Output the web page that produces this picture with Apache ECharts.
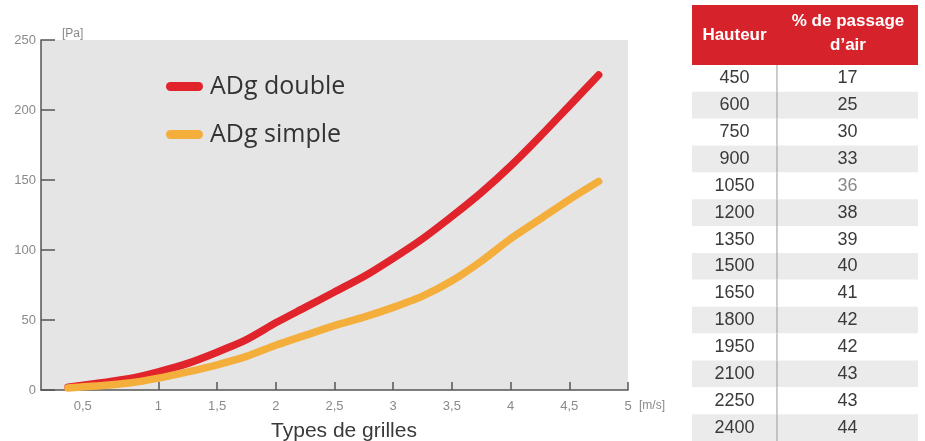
<!DOCTYPE html>
<html>
<head>
<meta charset="utf-8">
<script src="https://cdn.jsdelivr.net/npm/echarts@6/dist/echarts.min.js"></script>
<style>
html,body{margin:0;padding:0;background:#fff;}
#c{width:925px;height:441px;}
</style>
</head>
<body>
<div id="c"></div>
<script>
// ---- data ----
const speeds = [0.23, 0.5, 0.75, 1, 1.25, 1.5, 1.75, 2, 2.25, 2.5, 2.75, 3, 3.25, 3.5, 3.75, 4, 4.25, 4.5, 4.75];
const adgDouble = [2, 5, 8, 13, 19, 27, 36, 48, 59, 70, 81, 94, 108, 124, 141, 160, 181, 203, 225];
const adgSimple = [1.5, 3, 5, 8.5, 13, 18, 24, 32, 39, 46, 52, 59, 67, 78, 92, 108, 122, 136, 149];
const xLabelValues = [0.5, 1, 1.5, 2, 2.5, 3, 3.5, 4, 4.5, 5];
const xTickValues = [1, 1.5, 2, 2.5, 3, 3.5, 4, 4.5, 5];
const hauteur = [450, 600, 750, 900, 1050, 1200, 1350, 1500, 1650, 1800, 1950, 2100, 2250, 2400];
const passage = [17, 25, 30, 33, 36, 38, 39, 40, 41, 42, 42, 43, 43, 44];
const tableHeaders = ['Hauteur', '% de passage\nd\u2019air'];

const chart = echarts.init(document.getElementById('c'), null, {renderer: 'canvas'});
const font = '"Liberation Sans", Arial, sans-serif';
const axisColor = '#555';
const labelColor = '#8a8a8a';

const option = {
  animation: false,
  backgroundColor: '#ffffff',
  textStyle: {fontFamily: font},
  title: {
    text: 'Types de grilles',
    left: 344, top: 421,
    textAlign: 'center',
    padding: 0,
    textStyle: {fontSize: 21, fontWeight: 'normal', color: '#3a3a3a', fontFamily: font}
  },
  legend: {
    left: 166, top: 74,
    padding: 0,
    orient: 'vertical',
    itemWidth: 37, itemHeight: 9, itemGap: 23,
    icon: 'path://M4.5,0 L32.5,0 A4.5,4.5 0 0 1 32.5,9 L4.5,9 A4.5,4.5 0 0 1 4.5,0 Z',
    textStyle: {fontSize: 25, color: '#333', fontFamily: '"Open Sans", sans-serif', padding: [0, 0, 0, 2]},
    data: ['ADg double', 'ADg simple']
  },
  grid: [
    {left: 41, right: 297, top: 40, bottom: 51, show: true, backgroundColor: '#e5e5e5', borderWidth: 0},
    {left: 692, width: 226, top: 65, height: 382.2, show: false}
  ],
  xAxis: [
    {
      type: 'value', gridIndex: 0, min: 0, max: 5,
      name: '[m/s]', nameLocation: 'end', nameGap: 11,
      nameTextStyle: {color: labelColor, fontSize: 12, align: 'left', verticalAlign: 'top', padding: [10, 0, 0, 0]},
      axisLine: {show: true, lineStyle: {color: axisColor, width: 1.5}},
      axisTick: {show: true, inside: true, length: 8, customValues: xTickValues, lineStyle: {color: axisColor, width: 1.5}},
      splitLine: {show: false},
      axisLabel: {
        color: labelColor, fontSize: 13, margin: 10,
        customValues: xLabelValues,
        formatter: function (v) {
          const s = String(v).replace('.', ',');
          return v === 0.5 ? '{s|' + s + '}' : s;
        },
        rich: {s: {color: labelColor, fontSize: 13, padding: [0, 34, 0, 0]}}
      }
    },
    {type: 'value', gridIndex: 1, min: 0, max: 1, show: false}
  ],
  yAxis: [
    {
      type: 'value', gridIndex: 0, min: 0, max: 250, interval: 50,
      name: '[Pa]', nameLocation: 'end', nameGap: 0,
      nameTextStyle: {color: labelColor, fontSize: 12, align: 'left', padding: [0, 0, 0, 21]},
      axisLine: {show: true, lineStyle: {color: axisColor, width: 1.5}},
      axisTick: {show: true, inside: true, length: 14, lineStyle: {color: axisColor, width: 1.5}},
      splitLine: {show: false},
      axisLabel: {color: labelColor, fontSize: 13, margin: 5}
    },
    {type: 'category', gridIndex: 1, inverse: true, show: false, data: hauteur.map(String)}
  ],
  graphic: [
    {type: 'rect', left: 692, top: 5, shape: {width: 226, height: 60}, style: {fill: '#d6222a'}},
    {type: 'text', x: 734.5, y: 35, style: {text: tableHeaders[0], fill: '#fff', font: 'bold 17px ' + font, align: 'center', verticalAlign: 'middle'}},
    {type: 'text', x: 848, y: 33, style: {text: tableHeaders[1], fill: '#fff', font: 'bold 17px ' + font, align: 'center', verticalAlign: 'middle', lineHeight: 24}}
  ],
  series: [
    {
      name: 'ADg double', type: 'line', xAxisIndex: 0, yAxisIndex: 0,
      data: speeds.map((s, i) => [s, adgDouble[i]]),
      showSymbol: false, symbol: 'none', smooth: 0.25,
      itemStyle: {color: '#e1232b'},
      lineStyle: {color: '#e1232b', width: 7.5, cap: 'round', join: 'round'}
    },
    {
      name: 'ADg simple', type: 'line', xAxisIndex: 0, yAxisIndex: 0,
      data: speeds.map((s, i) => [s, adgSimple[i]]),
      showSymbol: false, symbol: 'none', smooth: 0.25,
      itemStyle: {color: '#f4ae3c'},
      lineStyle: {color: '#f4ae3c', width: 7.5, cap: 'round', join: 'round'}
    },
    {
      type: 'custom', xAxisIndex: 1, yAxisIndex: 1,
      data: hauteur.map((h, i) => [i, h, passage[i]]),
      encode: {y: 0},
      renderItem: function (params, api) {
        const i = api.value(0);
        const cs = params.coordSys;
        const c = api.coord([0, i]);
        const h = api.size([0, 1])[1];
        const top = c[1] - h / 2;
        const xa = api.coord([0.188, i])[0];
        const xd = api.coord([0.376, i])[0];
        const xb = api.coord([0.688, i])[0];
        return {
          type: 'group',
          children: [
            {type: 'rect', shape: {x: cs.x, y: top, width: cs.width, height: h}, style: {fill: i % 2 ? '#ebebeb' : '#ffffff'}},
            {type: 'line', shape: {x1: xd, y1: top, x2: xd, y2: top + h}, style: {stroke: '#9a9a9a', lineWidth: 1}},
            {type: 'text', x: xa, y: c[1], style: {text: String(api.value(1)), fill: '#3a3a3a', font: '18px ' + font, align: 'center', verticalAlign: 'middle'}},
            {type: 'text', x: xb, y: c[1], style: {text: String(api.value(2)), fill: i === 4 ? '#8a8a8a' : '#3a3a3a', font: '18px ' + font, align: 'center', verticalAlign: 'middle'}}
          ]
        };
      }
    }
  ]
};
chart.setOption(option);
</script>
</body>
</html>
